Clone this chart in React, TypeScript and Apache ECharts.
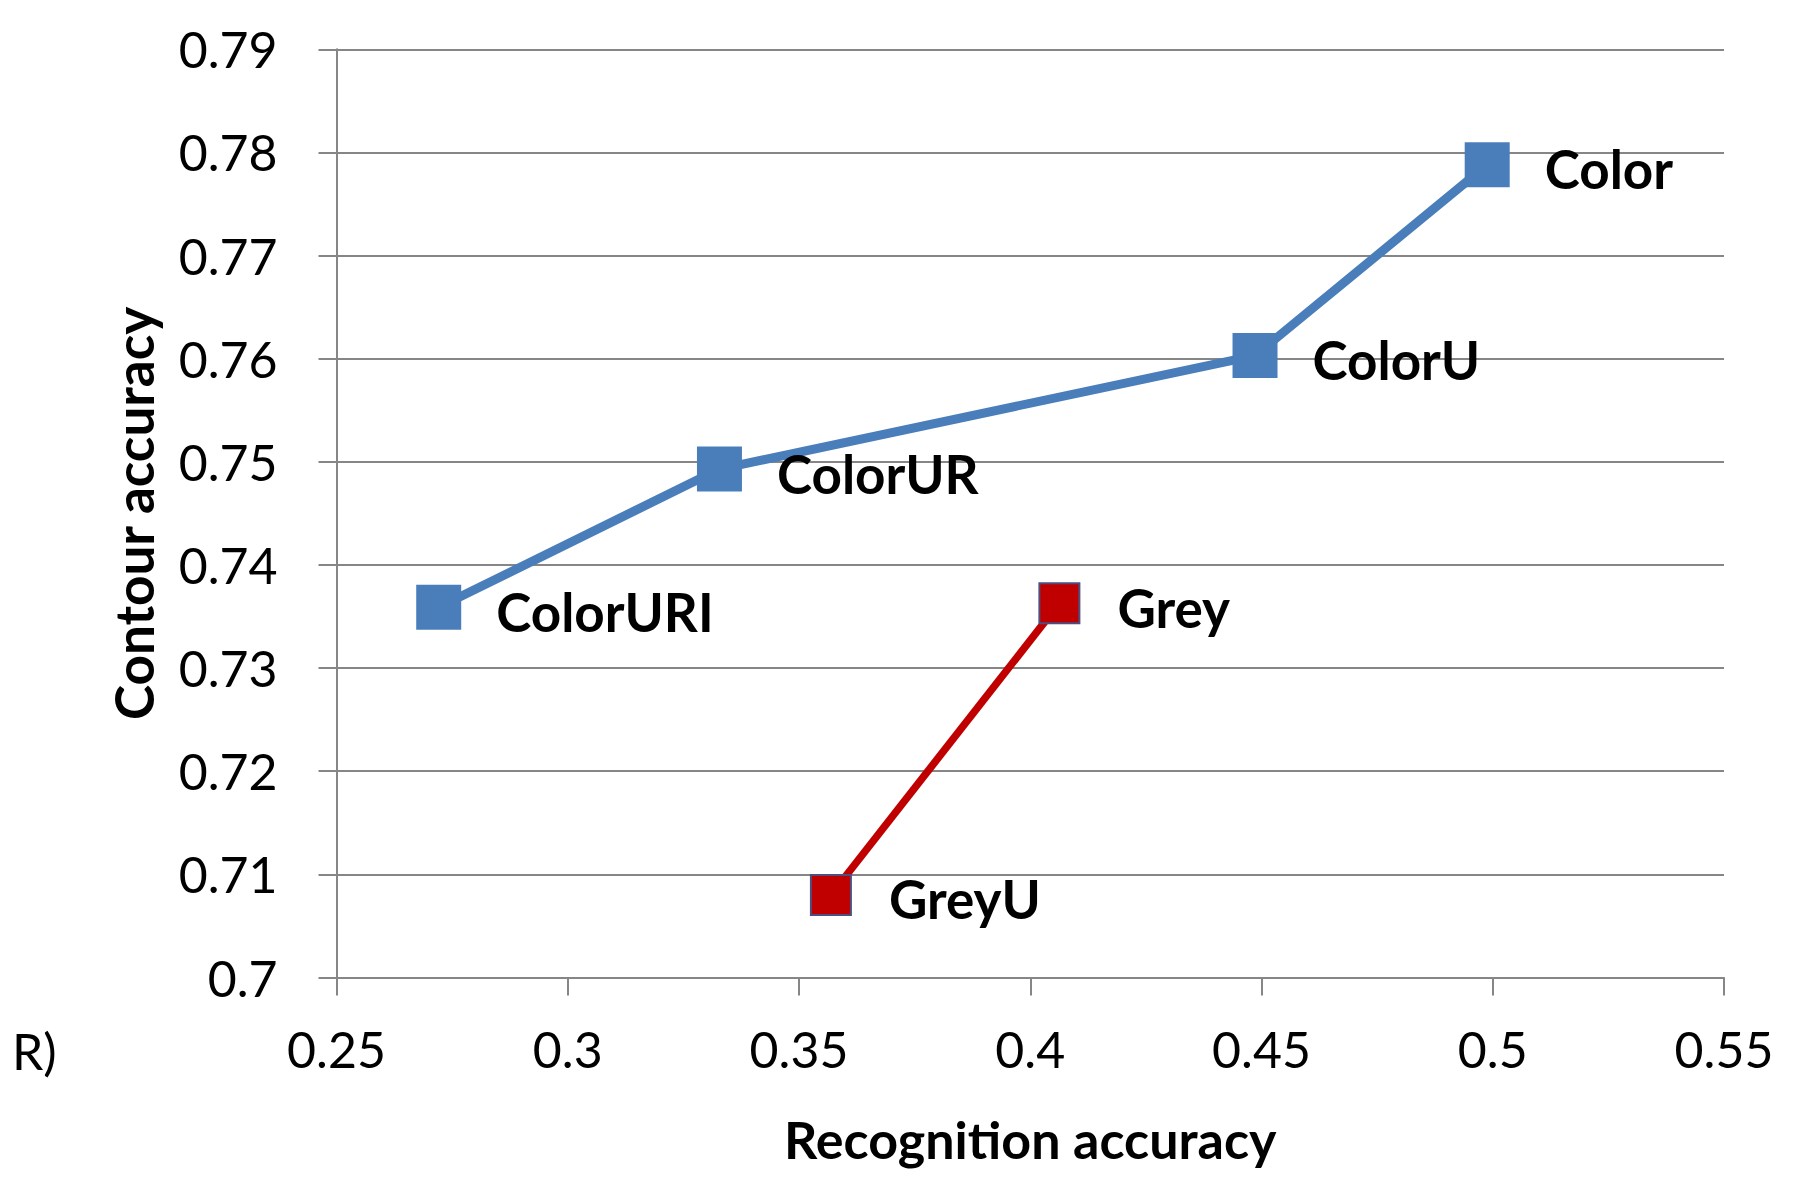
import React, { useEffect, useRef } from "react";
import * as echarts from "echarts";

const colorNames = ["ColorURI", "ColorUR", "ColorU", "Color"];
const colorRecognition = [0.2721, 0.3328, 0.4486, 0.4988];
const colorContour = [0.7359, 0.7493, 0.7603, 0.7788];

const greyNames = ["GreyU", "Grey"];
const greyRecognition = [0.3569, 0.4063];
const greyContour = [0.708, 0.7363];

const xTicks = { min: 0.25, max: 0.55, interval: 0.05 };
const yTicks = { min: 0.7, max: 0.79, interval: 0.01 };

const FONT = "Lato";

export default function App() {
  const ref = useRef<HTMLDivElement>(null);
  useEffect(() => {
    if (!ref.current) return;
    const chart = echarts.init(ref.current, null, { renderer: "svg" });
    const mk = (names: string[], xs: number[], ys: number[]) =>
      names.map((n, i) => ({ name: n, value: [xs[i], ys[i]] }));
    chart.setOption({
      animation: false,
      backgroundColor: "#ffffff",
      grid: {
        left: 336.5,
        right: 75,
        top: 49.3,
        bottom: 200.5,
        containLabel: false,
        outerBoundsMode: "none",
      },
      xAxis: {
        type: "value",
        min: xTicks.min,
        max: xTicks.max,
        interval: xTicks.interval,
        name: "Recognition accuracy",
        nameLocation: "middle",
        nameGap: 135,
        nameTextStyle: { fontFamily: FONT, fontWeight: "bold", fontSize: 52, color: "#000" },
        axisLine: { show: true, lineStyle: { color: "#868686", width: 2 } },
        axisTick: { show: true, length: 18, lineStyle: { color: "#868686", width: 2 } },
        axisLabel: { fontFamily: FONT, fontSize: 50, color: "#000", margin: 46 },
        splitLine: { show: false },
      },
      yAxis: {
        type: "value",
        min: yTicks.min,
        max: yTicks.max,
        interval: yTicks.interval,
        name: "Contour accuracy",
        nameLocation: "middle",
        nameGap: 177,
        nameTextStyle: { fontFamily: FONT, fontWeight: "bold", fontSize: 53, color: "#000" },
        axisLine: { show: true, lineStyle: { color: "#868686", width: 2 } },
        axisTick: { show: true, length: 18, lineStyle: { color: "#868686", width: 2 } },
        axisLabel: { fontFamily: FONT, fontSize: 50, color: "#000", margin: 59 },
        splitLine: { show: true, lineStyle: { color: "#868686", width: 2 } },
      },
      series: [
        {
          type: "line",
          name: "Color",
          data: mk(colorNames, colorRecognition, colorContour),
          symbol: "rect",
          symbolSize: 45,
          lineStyle: { color: "#4A7EBB", width: 9 },
          itemStyle: { color: "#4A7EBB" },
          label: {
            show: true,
            position: "right",
            distance: 35,
            offset: [0, 4],
            formatter: "{b}",
            fontFamily: FONT,
            fontWeight: "bold",
            fontSize: 53,
            color: "#000",
          },
          z: 3,
        },
        {
          type: "line",
          name: "Grey",
          data: mk(greyNames, greyRecognition, greyContour),
          symbol: "rect",
          symbolSize: 40,
          lineStyle: { color: "#C00000", width: 7.5 },
          itemStyle: { color: "#C00000", borderColor: "#4F4F7F", borderWidth: 2 },
          label: {
            show: true,
            position: "right",
            distance: 37,
            offset: [0, 4],
            formatter: "{b}",
            fontFamily: FONT,
            fontWeight: "bold",
            fontSize: 53,
            color: "#000",
          },
          z: 3,
        },
      ],
      graphic: [
        {
          type: "text",
          left: 12,
          top: 1053 - 27,
          style: { text: "R)", fontFamily: FONT, fontSize: 50, fill: "#000" },
        },
      ],
    });
    return () => chart.dispose();
  }, []);
  return (
    <div
      ref={ref}
      style={{ position: "absolute", left: 0, top: 0, width: 1799, height: 1178 }}
    />
  );
}
